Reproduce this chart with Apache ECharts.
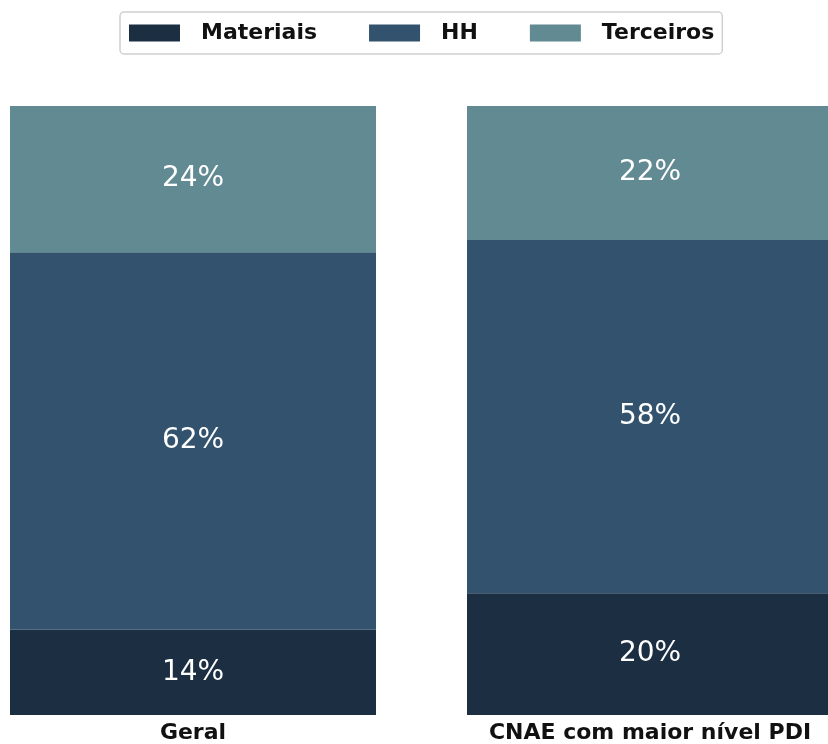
<!DOCTYPE html>
<html><head><meta charset="utf-8">
<script src="https://cdn.jsdelivr.net/npm/echarts@6/dist/echarts.min.js"></script>
<style>html,body{margin:0;padding:0;background:#fff}#c{width:828px;height:744px}</style>
</head><body><div id="c"></div>
<script>
const categories = ['Geral', 'CNAE com maior nível PDI'];
const materiais = [14, 20];
const hh = [62, 58];
const terceiros = [24, 22];
const seriesNames = ['Materiais', 'HH', 'Terceiros'];
const colors = ['#1b2e42', '#33526d', '#628a92'];

const chart = echarts.init(document.getElementById('c'));
const lbl = {show: true, position: 'inside', color: '#ffffff', fontFamily: 'DejaVu Sans', fontSize: 28, formatter: p => p.value + '%'};
const mk = (name, data, i) => ({
  name, type: 'bar', stack: 'a', data, barWidth: 366, clip: false,
  itemStyle: {color: colors[i]}, label: lbl, emphasis: {disabled: true}
});
chart.setOption({
  animation: false,
  legend: {
    top: 12, left: 120, itemWidth: 51, itemHeight: 17, itemGap: 52,
    padding: [10, 8, 10, 9],
    borderColor: '#d0d0d0', borderWidth: 1.5, borderRadius: 4,
    icon: 'rect',
    textStyle: {fontFamily: 'DejaVu Sans', fontWeight: 'bold', fontSize: 22, color: '#111', padding: [0, 0, 0, 16]},
    data: seriesNames
  },
  grid: {left: 193, right: 178, top: 106, bottom: 27},
  xAxis: {
    type: 'category', data: categories, boundaryGap: false,
    axisLine: {show: false}, axisTick: {show: false},
    axisLabel: {fontFamily: 'DejaVu Sans', fontWeight: 'bold', fontSize: 22, color: '#111', margin: 7}
  },
  yAxis: {type: 'value', min: 0, max: 100, show: false},
  series: [mk(seriesNames[0], materiais, 0), mk(seriesNames[1], hh, 1), mk(seriesNames[2], terceiros, 2)]
});
</script></body></html>
